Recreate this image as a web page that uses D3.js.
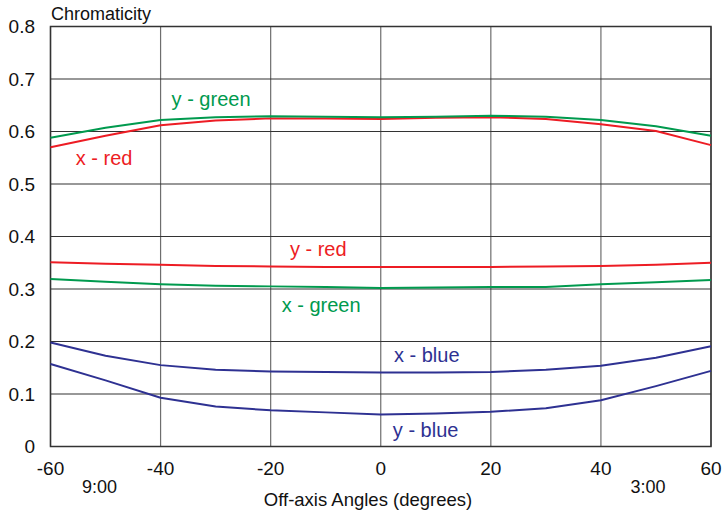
<!DOCTYPE html>
<html>
<head>
<meta charset="utf-8">
<script src="https://cdn.jsdelivr.net/npm/d3@7"></script>
<style>
  body { margin: 0; background: #fff; }
  text { font-family: "Liberation Sans", Arial, sans-serif; }
</style>
</head>
<body>
<div id="chart"></div>
<script>
const angles = [-60, -50, -40, -30, -20, -10, 0, 10, 20, 30, 40, 50, 60]
const xRed   = [0.570, 0.592, 0.612, 0.621, 0.625, 0.625, 0.624, 0.626, 0.627, 0.624, 0.614, 0.601, 0.574]
const yGreen = [0.588, 0.607, 0.622, 0.627, 0.629, 0.628, 0.627, 0.628, 0.630, 0.628, 0.622, 0.610, 0.592]
const yRed   = [0.351, 0.348, 0.346, 0.344, 0.343, 0.342, 0.342, 0.342, 0.342, 0.343, 0.344, 0.346, 0.350]
const xGreen = [0.319, 0.314, 0.309, 0.306, 0.305, 0.304, 0.302, 0.303, 0.304, 0.304, 0.309, 0.313, 0.317]
const xBlue  = [0.198, 0.173, 0.155, 0.146, 0.143, 0.142, 0.141, 0.141, 0.142, 0.146, 0.154, 0.169, 0.191]
const yBlue  = [0.157, 0.126, 0.093, 0.076, 0.069, 0.065, 0.061, 0.063, 0.066, 0.073, 0.088, 0.115, 0.144]

const xTicks = [-60, -40, -20, 0, 20, 40, 60]
const yTicks = [0, 0.1, 0.2, 0.3, 0.4, 0.5, 0.6, 0.7, 0.8]

// label anchors in data units (angle, chromaticity)
const series = [
    { name: 'x - red',   values: xRed,   color: '#ed1c24', lx: -55.4, ly: 0.536 },
    { name: 'y - green', values: yGreen, color: '#009a4e', lx: -38.0, ly: 0.648 },
    { name: 'y - red',   values: yRed,   color: '#ed1c24', lx: -16.5, ly: 0.362 },
    { name: 'x - green', values: xGreen, color: '#009a4e', lx: -18.0, ly: 0.257 },
    { name: 'x - blue',  values: xBlue,  color: '#2e3192', lx: 2.4,   ly: 0.161 },
    { name: 'y - blue',  values: yBlue,  color: '#2e3192', lx: 2.2,   ly: 0.019 }
]

function draw() {
    let dimensions = {
        width: 722,
        height: 512,
        margins: { top: 26.5, right: 11, bottom: 65.5, left: 50.5 }
    }
    const m = dimensions.margins

    const svg = d3.select('#chart')
        .append('svg')
        .attr('width', dimensions.width)
        .attr('height', dimensions.height)

    const xScale = d3.scaleLinear()
        .domain([-60, 60])
        .range([m.left, dimensions.width - m.right])

    const yScale = d3.scaleLinear()
        .domain([0, 0.8])
        .range([dimensions.height - m.bottom, m.top])

    // grid
    svg.append('g')
        .selectAll('line')
        .data(xTicks)
        .join('line')
        .attr('x1', d => xScale(d)).attr('x2', d => xScale(d))
        .attr('y1', yScale(0)).attr('y2', yScale(0.8))
        .attr('stroke', '#6e6e6e')
        .attr('stroke-width', 1.2)

    svg.append('g')
        .selectAll('line')
        .data(yTicks)
        .join('line')
        .attr('x1', xScale(-60)).attr('x2', xScale(60))
        .attr('y1', d => yScale(d)).attr('y2', d => yScale(d))
        .attr('stroke', '#333')
        .attr('stroke-width', 1.2)

    svg.append('rect')
        .attr('x', xScale(-60))
        .attr('y', yScale(0.8))
        .attr('width', xScale(60) - xScale(-60))
        .attr('height', yScale(0) - yScale(0.8))
        .attr('fill', 'none')
        .attr('stroke', '#333')
        .attr('stroke-width', 1.5)

    // tick labels
    svg.append('g')
        .selectAll('text')
        .data(yTicks)
        .join('text')
        .attr('x', 35)
        .attr('y', d => yScale(d))
        .attr('dy', '0.35em')
        .attr('text-anchor', 'end')
        .attr('font-size', 19)
        .attr('fill', '#111')
        .text(d => d === 0 ? '0' : d3.format('.1f')(d))

    svg.append('g')
        .selectAll('text')
        .data(xTicks)
        .join('text')
        .attr('x', d => xScale(d))
        .attr('y', 474.5)
        .attr('text-anchor', 'middle')
        .attr('font-size', 19)
        .attr('fill', '#111')
        .text(d => d)

    svg.append('text')
        .attr('x', 99.5).attr('y', 492.5)
        .attr('text-anchor', 'middle')
        .attr('font-size', 18)
        .attr('fill', '#111')
        .text('9:00')

    svg.append('text')
        .attr('x', 648).attr('y', 492.5)
        .attr('text-anchor', 'middle')
        .attr('font-size', 18)
        .attr('fill', '#111')
        .text('3:00')

    svg.append('text')
        .attr('x', 368).attr('y', 505.5)
        .attr('text-anchor', 'middle')
        .attr('font-size', 18.5)
        .attr('fill', '#111')
        .text('Off-axis Angles (degrees)')

    svg.append('text')
        .attr('x', 51).attr('y', 19.5)
        .attr('font-size', 18)
        .attr('fill', '#111')
        .text('Chromaticity')

    // lines
    const lineGenerator = d3.line()
        .x((d, i) => xScale(angles[i]))
        .y(d => yScale(d))

    svg.append('g')
        .selectAll('path')
        .data(series)
        .join('path')
        .attr('d', d => lineGenerator(d.values))
        .attr('fill', 'none')
        .attr('stroke', d => d.color)
        .attr('stroke-width', 2)
        .attr('stroke-linejoin', 'round')

    svg.append('g')
        .selectAll('text')
        .data(series)
        .join('text')
        .attr('x', d => xScale(d.lx))
        .attr('y', d => yScale(d.ly))
        .attr('font-size', 20)
        .attr('fill', d => d.color)
        .text(d => d.name)
}

draw()
</script>
</body>
</html>
